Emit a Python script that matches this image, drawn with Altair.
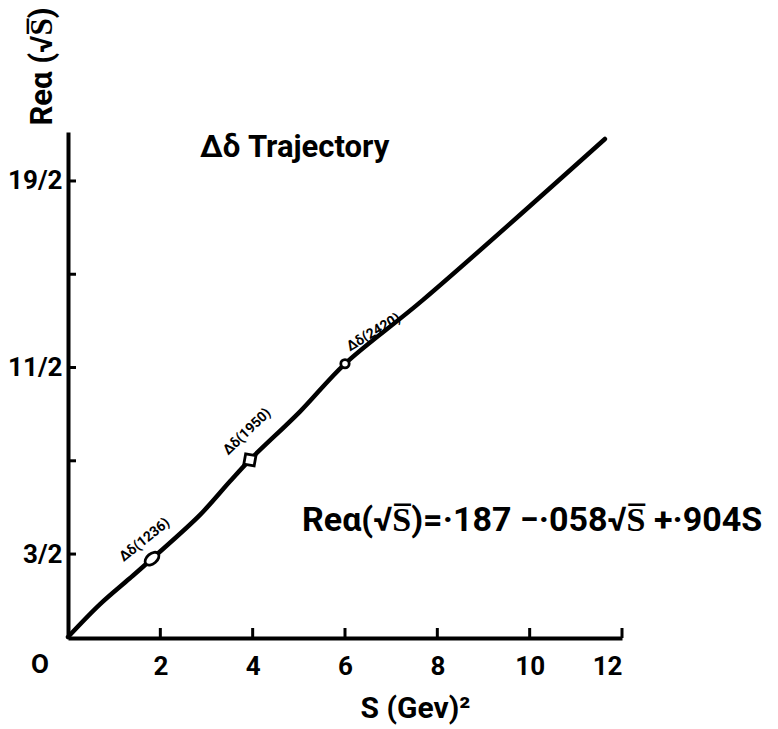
import altair as alt
import pandas as pd

# Delta-delta Regge trajectory
s_curve = [0.0, 0.69, 1.34, 1.82, 2.86, 3.51, 3.94, 5.02, 6.0, 7.69, 11.63]
alpha_curve = [-0.28, 0.42, 0.98, 1.40, 2.34, 3.06, 3.52, 4.55, 5.58, 6.95, 10.40]

# Resonances marked on the trajectory
res_names = ["Δδ(1236)", "Δδ(1950)", "Δδ(2420)"]
res_s = [1.82, 3.94, 6.0]
res_alpha = [1.40, 3.52, 5.58]
res_label_s = [1.66, 3.88, 6.62]
res_label_alpha = [1.80, 4.12, 6.25]
res_label_angle = [321, 316, 329]

x_tick_values = [2, 4, 6, 8, 10, 12]
y_tick_values = [1.5, 3.5, 5.5, 7.5, 9.5]
y_tick_text = {1.5: "3/2", 5.5: "11/2", 9.5: "19/2"}

FONT = "Roboto"
W, H = 554, 506

curve = pd.DataFrame({"s": s_curve, "a": alpha_curve})
res = pd.DataFrame({
    "name": res_names, "s": res_s, "a": res_alpha,
    "ls": res_label_s, "la": res_label_alpha, "ang": res_label_angle,
})
res["shape"] = [
    "M -1 0 A 1 0.62 0 1 1 1 0 A 1 0.62 0 1 1 -1 0 Z",
    "square",
    "circle",
]
res["size"] = [260, 110, 70]
res["rot"] = [320, 10, 0]

label_expr = " : ".join(
    f"datum.value == {v} ? '{t}'" for v, t in y_tick_text.items()
) + " : ''"

x_scale = alt.Scale(domain=[0, 12], nice=False, zero=False)
y_scale = alt.Scale(domain=[-0.3, 10.55], nice=False, zero=False)

x_axis = alt.Axis(
    values=x_tick_values, grid=False, ticks=False, tickSize=0,
    domainColor="black", domainWidth=4,
    labelFont=FONT, labelFontSize=26, labelFontWeight="bold", labelColor="black",
    labelPadding=15,
    title="S (Gev)²", titleFont=FONT, titleFontSize=30, titleFontWeight="bold",
    titleColor="black", titleX=347, titleY=70, titleAlign="center",
    titleBaseline="middle",
)
y_axis = alt.Axis(
    values=y_tick_values, grid=False, ticks=False, tickSize=0,
    domainColor="black", domainWidth=4,
    labelExpr=label_expr,
    labelFont=FONT, labelFontSize=26, labelFontWeight="bold", labelColor="black",
    labelPadding=6, labelBaseline="middle",
    title="Reα (√S̅)", titleFont=FONT, titleFontSize=31, titleFontWeight="bold",
    titleColor="black", titleAngle=270, titleX=-26, titleY=-66,
    titleAlign="center", titleBaseline="middle",
)

line = alt.Chart(curve).mark_line(
    color="black", strokeWidth=4.5, interpolate="catmull-rom", strokeCap="round"
).encode(
    x=alt.X("s:Q", scale=x_scale, axis=x_axis),
    y=alt.Y("a:Q", scale=y_scale, axis=y_axis),
)

# inward-pointing ticks
x_ticks = alt.Chart(pd.DataFrame({"s": x_tick_values})).mark_rule(
    color="black", strokeWidth=3
).encode(
    x=alt.X("s:Q", scale=x_scale),
    y=alt.value(H), y2=alt.value(H - 10),
)
y_ticks = alt.Chart(pd.DataFrame({"a": y_tick_values})).mark_rule(
    color="black", strokeWidth=3
).encode(
    y=alt.Y("a:Q", scale=y_scale),
    x=alt.value(0), x2=alt.value(8),
)

markers = alt.Chart(res).mark_point(
    filled=True, fill="white", stroke="black", strokeWidth=2.8, opacity=1
).encode(
    x=alt.X("s:Q", scale=x_scale),
    y=alt.Y("a:Q", scale=y_scale),
    shape=alt.Shape("shape:N", scale=None, legend=None),
    size=alt.Size("size:Q", scale=None, legend=None),
    angle=alt.Angle("rot:Q", scale=None),
)

res_labels = alt.Chart(res).mark_text(
    font=FONT, fontSize=14, fontWeight="bold", color="black",
    align="center", baseline="middle",
).encode(
    x=alt.X("ls:Q", scale=x_scale),
    y=alt.Y("la:Q", scale=y_scale),
    text="name:N",
    angle=alt.Angle("ang:Q", scale=None),
)

notes = pd.DataFrame({
    "s": [2.86, 5.07],
    "a": [10.21, 2.21],
    "txt": ["Δδ Trajectory", "Reα(√S̅)=·187 −·058√S̅ +·904S"],
    "fs": [31, 34],
})
note_text = alt.Chart(notes).mark_text(
    font=FONT, fontWeight="bold", color="black", align="left", baseline="middle",
).encode(
    x=alt.X("s:Q", scale=x_scale),
    y=alt.Y("a:Q", scale=y_scale),
    text="txt:N",
    size=alt.Size("fs:Q", scale=None, legend=None),
)

origin_label = alt.Chart(pd.DataFrame({"t": ["O"]})).mark_text(
    font=FONT, fontSize=26, fontWeight="bold", color="black",
    align="center", baseline="middle",
).encode(
    text="t:N", x=alt.value(-28), y=alt.value(H + 27),
)

chart = alt.layer(
    line, x_ticks, y_ticks, markers, res_labels, note_text, origin_label
).properties(
    width=W, height=H,
    padding={"left": 68, "top": 132, "right": 156, "bottom": 91},
    autosize=alt.AutoSizeParams(type="none"),
    background="white",
).configure_view(stroke=None)

chart.save("out.html", embed_options={"renderer": "svg", "actions": False})
